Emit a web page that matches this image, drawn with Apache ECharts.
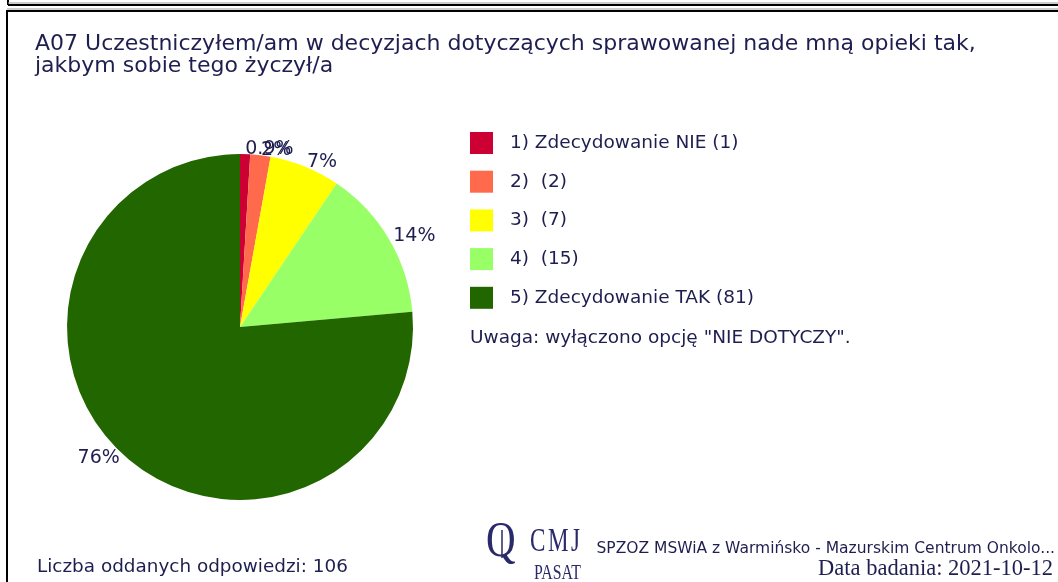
<!DOCTYPE html>
<html>
<head>
<meta charset="utf-8">
<script src="https://cdn.jsdelivr.net/npm/echarts@6/dist/echarts.min.js"></script>
<style>
html,body{margin:0;padding:0;background:#fff;}
#chart{width:1058px;height:582px;}
</style>
</head>
<body>
<div id="chart"></div>
<script>
const categories = ["1) Zdecydowanie NIE", "2) ", "3) ", "4) ", "5) Zdecydowanie TAK"];
const counts = [1, 2, 7, 15, 81];
const pctLabels = ["0.9%", "2%", "7%", "14%", "76%"];
const colors = ["#CC0033", "#FF6A4D", "#FFFF00", "#99FF66", "#226600"];
const titleText = "A07 Uczestniczyłem/am w decyzjach dotyczących sprawowanej nade mną opieki tak,\njakbym sobie tego życzył/a";
const noteText = 'Uwaga: wyłączono opcję "NIE DOTYCZY".';
const totalText = "Liczba oddanych odpowiedzi: 106";
const orgText = "SPZOZ MSWiA z Warmińsko - Mazurskim Centrum Onkolo...";
const dateText = "Data badania: 2021-10-12";

const txt = "#1E1E50";
const font = "DejaVu Sans";
const logo = "#2A2A6A";

const legendNames = categories.map((c, i) => c + " (" + counts[i] + ")");
const data = counts.map((v, i) => ({
  name: legendNames[i],
  value: v,
  itemStyle: { color: colors[i] },
  label: { formatter: pctLabels[i] }
}));

const chart = echarts.init(document.getElementById('chart'));
chart.setOption({
  backgroundColor: '#fff',
  animation: false,
  title: {
    text: titleText,
    left: 30, top: 28,
    textStyle: { color: txt, fontFamily: font, fontSize: 22, fontWeight: 'normal', lineHeight: 22 }
  },
  legend: {
    orient: 'vertical',
    left: 470, top: 132, padding: 0,
    itemWidth: 23, itemHeight: 22, itemGap: 16.7,
    icon: 'rect',
    data: legendNames,
    textStyle: { color: txt, fontFamily: font, fontSize: 18.5, padding: [0, 0, 0, 12] },
    selectedMode: false
  },
  series: [{
    type: 'pie',
    center: [240, 327],
    radius: [0, 173],
    startAngle: 90,
    clockwise: true,
    avoidLabelOverlap: false,
    labelLayout: { hideOverlap: false },
    minShowLabelAngle: 0,
    data: data,
    label: {
      show: true, position: 'outside',
      color: txt, fontFamily: font, fontSize: 19,
      distanceToLabelLine: 0
    },
    labelLine: { show: false, length: 5, length2: 0 },
    emphasis: { disabled: true }
  }],
  graphic: [
    { type: 'line', shape: { x1: 8, y1: 0, x2: 8, y2: 5 }, style: { stroke: '#000', lineWidth: 2 } },
    { type: 'line', shape: { x1: 8, y1: 3, x2: 1058, y2: 3 }, style: { stroke: '#999', lineWidth: 1 } },
    { type: 'line', shape: { x1: 8, y1: 5, x2: 1058, y2: 5 }, style: { stroke: '#000', lineWidth: 2 } },
    { type: 'line', shape: { x1: 7, y1: 9, x2: 1058, y2: 9 }, style: { stroke: '#999', lineWidth: 1 } },
    { type: 'line', shape: { x1: 7, y1: 11, x2: 1058, y2: 11 }, style: { stroke: '#000', lineWidth: 2 } },
    { type: 'line', shape: { x1: 7, y1: 10, x2: 7, y2: 582 }, style: { stroke: '#000', lineWidth: 2 } },
    { type: 'text', left: 470, top: 329, style: { text: noteText, fill: txt, font: '18.5px "DejaVu Sans"' } },
    { type: 'text', left: 37, top: 558, style: { text: totalText, fill: txt, font: '18.4px "DejaVu Sans"' } },
    { type: 'text', x: 486, y: 518, scaleX: 0.82, style: { text: 'Q', fill: logo, font: '50px "Liberation Serif"' } },
    { type: 'line', shape: { x1: 502, y1: 530, x2: 502, y2: 558 }, style: { stroke: logo, lineWidth: 1.5 } },
    { type: 'text', x: 530, y: 526, scaleX: 0.7, style: { text: 'C', fill: logo, font: '33px "Liberation Serif"' } },
    { type: 'text', x: 548, y: 526, scaleX: 0.7, style: { text: 'M', fill: logo, font: '33px "Liberation Serif"' } },
    { type: 'text', x: 571, y: 526, scaleX: 0.7, style: { text: 'J', fill: logo, font: '33px "Liberation Serif"' } },
    { type: 'text', x: 534, y: 562, scaleX: 0.72, style: { text: 'PASAT', fill: logo, font: '22px "Liberation Serif"' } },
    { type: 'text', right: 3, top: 541, style: { text: orgText, fill: txt, font: '15.5px "DejaVu Sans"' } },
    { type: 'text', right: 5, top: 558, style: { text: dateText, fill: txt, font: '22.5px "Liberation Serif"' } }
  ]
});
</script>
</body>
</html>
